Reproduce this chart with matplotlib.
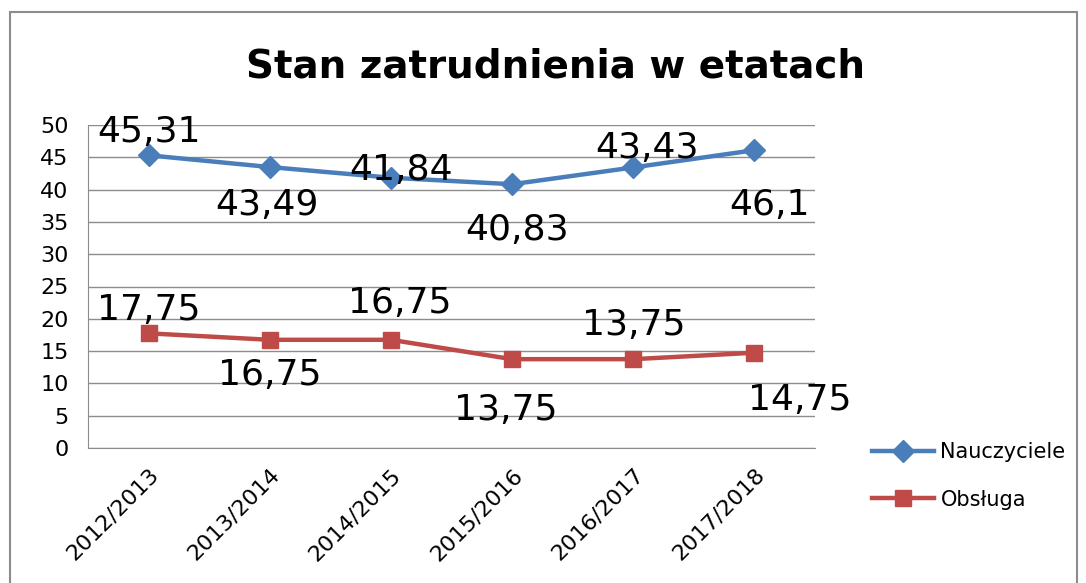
import matplotlib.pyplot as plt
from matplotlib.patches import Rectangle

years = ["2012/2013", "2013/2014", "2014/2015", "2015/2016", "2016/2017", "2017/2018"]
nauczyciele = [45.31, 43.49, 41.84, 40.83, 43.43, 46.1]
obsluga = [17.75, 16.75, 16.75, 13.75, 13.75, 14.75]
naucz_labels = ["45,31", "43,49", "41,84", "40,83", "43,43", "46,1"]
obsl_labels = ["17,75", "16,75", "16,75", "13,75", "13,75", "14,75"]

# label offsets in pixels (dx, dy)
naucz_off = [(0, 23), (-3, -38), (10, 8), (5, -46), (14, 19), (15, -55)]
obsl_off = [(0, 23), (0, -35), (9, 37), (-6, -51), (0, 34), (45, -47)]

plt.rcParams['font.family'] = ['DejaVu Sans']

fig = plt.figure(figsize=(10.86, 5.83), dpi=100)
ax = fig.add_axes([88 / 1086, 1 - 448 / 583, 727 / 1086, 323 / 583])

x = range(len(years))
blue = '#4A7EBB'
red = '#BE4B48'
ax.plot(x, nauczyciele, color=blue, lw=3.2, marker='D', ms=11, label='Nauczyciele', zorder=3)
ax.plot(x, obsluga, color=red, lw=3.2, marker='s', ms=12, label='Obsługa', zorder=3)

for i in x:
    ax.annotate(naucz_labels[i], (i, nauczyciele[i]), xytext=naucz_off[i], textcoords='offset pixels',
                ha='center', va='center', fontsize=26, color='black', zorder=4)
    ax.annotate(obsl_labels[i], (i, obsluga[i]), xytext=obsl_off[i], textcoords='offset pixels',
                ha='center', va='center', fontsize=26, color='black', zorder=4)

ax.set_xlim(-0.5, 5.5)
ax.set_ylim(0, 50)
ax.set_yticks(range(0, 51, 5))
ax.set_xticks(list(x))
ax.set_xticklabels(years, rotation=45, ha='right', rotation_mode='anchor', fontsize=16)
ax.tick_params(axis='y', labelsize=16, length=0, pad=14)
ax.tick_params(axis='x', length=0, pad=12)
ax.grid(axis='y', color='#8c8c8c', lw=1)
ax.set_axisbelow(True)
for s in ['top', 'right']:
    ax.spines[s].set_visible(False)
for s in ['left', 'bottom']:
    ax.spines[s].set_color('#8c8c8c')

fig.text(555 / 1086, 1 - 66 / 583, 'Stan zatrudnienia w etatach', ha='center', va='center',
         fontsize=28, fontweight='bold')

fig.legend(loc='center left', bbox_to_anchor=(853 / 1086, 1 - 476 / 583), frameon=False,
           fontsize=15, handlelength=3, labelspacing=1.3, handletextpad=0.3)

fig.patches.append(Rectangle((10 / 1086, -0.1), 1067 / 1086, 1.1 - 12 / 583, transform=fig.transFigure,
                             fill=False, edgecolor='#8c8c8c', lw=1.5))

fig.savefig('out.png', dpi=100)
